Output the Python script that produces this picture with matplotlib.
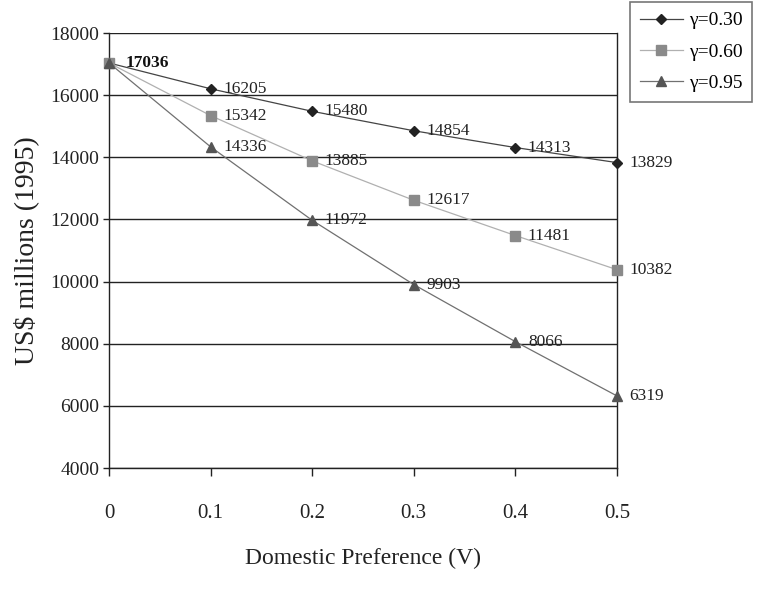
import matplotlib
matplotlib.use("Agg")
import matplotlib.pyplot as plt

plt.rcParams['font.family'] = ['Liberation Serif', 'DejaVu Serif']

x = [0, 0.1, 0.2, 0.3, 0.4, 0.5]
g030 = [17036, 16205, 15480, 14854, 14313, 13829]
g060 = [17036, 15342, 13885, 12617, 11481, 10382]
g095 = [17036, 14336, 11972, 9903, 8066, 6319]
labels = ["\u03b3=0.30", "\u03b3=0.60", "\u03b3=0.95"]
xticks = [0, 0.1, 0.2, 0.3, 0.4, 0.5]
xticklabels = ["0", "0.1", "0.2", "0.3", "0.4", "0.5"]
yticks = [4000, 6000, 8000, 10000, 12000, 14000, 16000, 18000]

fig = plt.figure(figsize=(7.57, 5.9), dpi=100)
ax = fig.add_axes([109/757, 1-468/590, (617-109)/757, (468-33)/590])

styles = [
    dict(color='#444444', marker='D', markersize=5.5, mfc='#222222', mec='#222222', lw=0.9),
    dict(color='#b0b0b0', marker='s', markersize=7, mfc='#8a8a8a', mec='#8a8a8a', lw=0.9),
    dict(color='#707070', marker='^', markersize=7.5, mfc='#555555', mec='#555555', lw=0.9),
]
series = [g030, g060, g095]
handles = []
for s, st, lab in zip(series, styles, labels):
    h, = ax.plot(x, s, label=lab, zorder=3, clip_on=False, **st)
    handles.append(h)

# data labels
for s in series:
    for i, (xi, yi) in enumerate(zip(x, s)):
        if i == 0:
            continue
        ax.annotate(str(yi), (xi, yi), xytext=(9, 0), textcoords='offset points',
                    ha='left', va='center', fontsize=12.5, color='#222222', zorder=4)
ax.annotate(str(g030[0]), (x[0], g030[0]), xytext=(12, 0), textcoords='offset points',
            ha='left', va='center', fontsize=12.5, fontweight='bold', color='#111111', zorder=4)

ax.set_xlim(0, 0.5)
ax.set_ylim(4000, 18000)
ax.set_xticks(xticks)
ax.set_xticklabels(xticklabels)
ax.set_yticks(yticks)
ax.yaxis.grid(True, color='#222222', lw=1.0)
ax.set_axisbelow(True)
for sp in ax.spines.values():
    sp.set_color('#222222')
    sp.set_linewidth(1.0)
ax.spines['top'].set_visible(False)

ax.tick_params(axis='x', direction='out', length=6, width=1, pad=20, labelsize=15, colors='#222222')
ax.tick_params(axis='y', direction='out', length=4, width=1, pad=3, labelsize=14, colors='#222222')

ax.set_xlabel("Domestic Preference (V)", fontsize=17, color='#222222', labelpad=18)
ax.set_ylabel("US$ millions (1995)", fontsize=20, color='#222222', labelpad=8)

leg = fig.legend(handles=handles, labels=labels, loc='upper right',
                 bbox_to_anchor=(752/757, 1-2/590), fontsize=14, frameon=True,
                 fancybox=False, edgecolor='#555555', handlelength=2.2,
                 handletextpad=0.3, borderpad=0.5, labelspacing=0.7, borderaxespad=0)
leg.get_frame().set_linewidth(1.2)

fig.savefig("out.png", dpi=100)
